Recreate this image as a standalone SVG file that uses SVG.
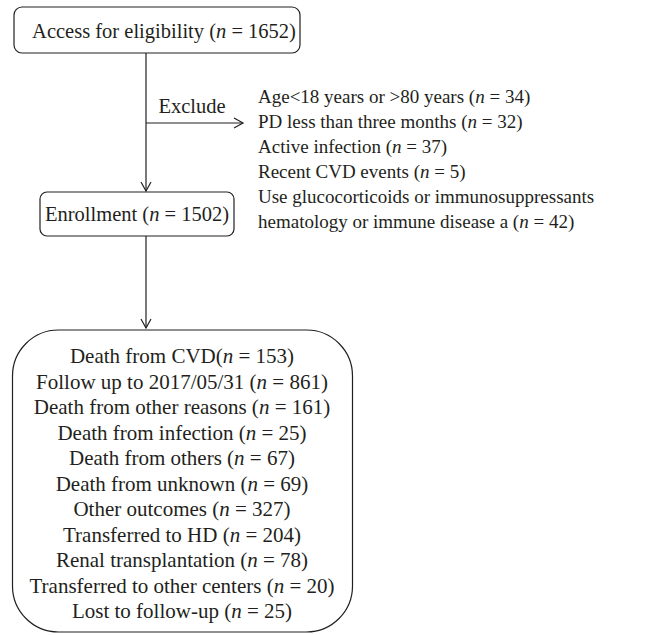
<svg xmlns="http://www.w3.org/2000/svg" width="652" height="635" viewBox="0 0 652 635">
<style>
text{font-family:"Liberation Serif","Times New Roman",serif;font-size:20.5px;fill:#231f20}
.c{text-anchor:middle}
.i{font-style:italic}
.ex{font-size:19px}
.oc{font-size:21px}
.box{fill:#fff;stroke:#231f20;stroke-width:1.2}
.ln{fill:none;stroke:#231f20;stroke-width:1.2}
</style>
<defs>
<marker id="ah" markerWidth="12" markerHeight="12" refX="10" refY="6" orient="auto" markerUnits="userSpaceOnUse">
<path d="M1,1 L10,6 L1,11" fill="none" stroke="#231f20" stroke-width="1.2"/>
</marker>
</defs>
<rect width="652" height="635" fill="#fff"/>
<g id="connectors">
<line class="ln" x1="146" y1="53" x2="146" y2="191" marker-end="url(#ah)"/>
<line class="ln" x1="146" y1="123" x2="243" y2="123" marker-end="url(#ah)"/>
<text class="c" x="192" y="113">Exclude</text>
<line class="ln" x1="146" y1="236" x2="146" y2="328" marker-end="url(#ah)"/>
</g>
<g id="access">
<rect class="box" x="14" y="7" width="286" height="46" rx="8"/>
<text class="c" x="164" y="38">Access for eligibility (<tspan class="i">n</tspan> = 1652)</text>
</g>
<g id="exclusions">
<text class="ex" x="258" y="103">Age&lt;18 years or &gt;80 years (<tspan class="i">n</tspan> = 34)</text>
<text class="ex" x="258" y="128">PD less than three months (<tspan class="i">n</tspan> = 32)</text>
<text class="ex" x="258" y="153">Active infection (<tspan class="i">n</tspan> = 37)</text>
<text class="ex" x="258" y="178">Recent CVD events (<tspan class="i">n</tspan> = 5)</text>
<text class="ex" x="258" y="203">Use glucocorticoids or immunosuppressants</text>
<text class="ex" x="258" y="228">hematology or immune disease a (<tspan class="i">n</tspan> = 42)</text>
</g>
<g id="enrollment">
<rect class="box" x="40" y="192" width="194" height="44" rx="7"/>
<text class="c" x="137" y="221">Enrollment (<tspan class="i">n</tspan> = 1502)</text>
</g>
<g id="outcomes">
<rect class="box" x="12.5" y="330" width="340" height="302" rx="46"/>
<text class="c oc" x="182" y="363">Death from CVD(<tspan class="i">n</tspan> = 153)</text>
<text class="c oc" x="182" y="388.5">Follow up to 2017/05/31 (<tspan class="i">n</tspan> = 861)</text>
<text class="c oc" x="182" y="414">Death from other reasons (<tspan class="i">n</tspan> = 161)</text>
<text class="c oc" x="182" y="439.5">Death from infection (<tspan class="i">n</tspan> = 25)</text>
<text class="c oc" x="182" y="465">Death from others (<tspan class="i">n</tspan> = 67)</text>
<text class="c oc" x="182" y="490.5">Death from unknown (<tspan class="i">n</tspan> = 69)</text>
<text class="c oc" x="182" y="516">Other outcomes (<tspan class="i">n</tspan> = 327)</text>
<text class="c oc" x="182" y="541.5">Transferred to HD (<tspan class="i">n</tspan> = 204)</text>
<text class="c oc" x="182" y="567">Renal transplantation (<tspan class="i">n</tspan> = 78)</text>
<text class="c oc" x="182" y="592.5">Transferred to other centers (<tspan class="i">n</tspan> = 20)</text>
<text class="c oc" x="182" y="618">Lost to follow-up (<tspan class="i">n</tspan> = 25)</text>
</g>
</svg>
